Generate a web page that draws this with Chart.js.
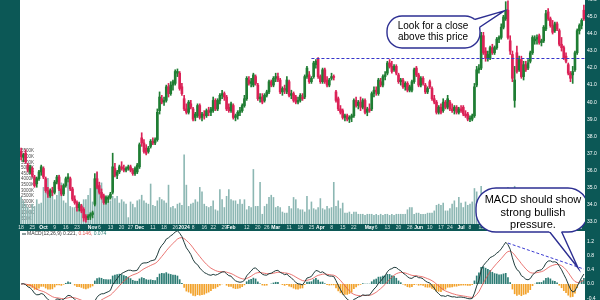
<!DOCTYPE html>
<html><head><meta charset="utf-8">
<script src="https://cdn.jsdelivr.net/npm/chart.js@4.4.1/dist/chart.umd.min.js"></script>
<style>
html,body{margin:0;padding:0;background:#fff;}
#wrap{position:relative;width:600px;height:300px;overflow:hidden;}
canvas{position:absolute;left:0;}
</style></head><body>
<div id="wrap">
<canvas id="priceCv" width="600" height="231" style="top:0"></canvas>
<canvas id="macdCv" width="600" height="69" style="top:231px"></canvas>
<canvas id="noteCv" width="600" height="300" style="top:0"></canvas>
</div>
<script>
// ---------- DATA ----------
const openP = [
37.1,36.8,37.0,36.3,35.9,36.1,35.6,35.2,35.5,35.9,
36.1,35.5,34.8,34.5,34.8,34.7,35.3,35.6,34.9,34.6,
35.1,35.5,35.5,34.9,34.3,34.1,33.8,33.9,33.7,33.3,
33.2,33.3,33.4,34.0,35.5,35.1,34.7,34.5,34.1,34.3,
34.4,34.7,36.1,35.7,35.9,36.2,36.1,36.0,36.1,36.2,
36.0,35.8,35.9,36.2,37.9,37.6,37.3,37.1,37.4,37.7,
37.6,37.8,39.5,40.2,40.0,40.1,40.9,40.5,41.0,41.1,
41.7,41.7,40.9,40.2,39.6,39.4,39.9,39.6,39.1,39.2,
39.8,39.1,39.3,39.2,39.5,39.4,39.5,40.1,39.6,40.1,
40.4,40.5,40.3,39.7,39.5,39.8,39.1,39.2,39.4,39.5,
39.8,40.2,41.3,41.1,41.0,41.5,41.0,40.2,40.3,40.1,
40.4,40.6,41.2,41.0,41.4,41.5,41.3,40.6,40.8,40.6,
41.2,40.4,40.5,40.3,40.0,40.1,40.3,40.3,41.5,41.6,
41.2,41.5,42.2,42.55,41.5,41.2,41.9,41.3,41.0,41.4,
41.5,40.6,40.2,39.6,39.5,39.1,39.2,39.0,39.1,39.2,
40.1,39.8,40.0,39.7,40.1,39.4,39.6,39.6,40.5,40.7,
40.5,41.2,41.0,41.5,41.7,42.3,42.1,41.9,42.1,41.6,
41.2,41.3,40.9,41.1,40.7,40.7,41.2,42.0,41.6,41.0,
41.4,41.0,40.6,41.2,40.8,40.2,40.0,39.4,39.7,39.5,
40.0,39.7,40.0,39.6,39.5,39.7,39.4,39.6,39.7,39.3,
39.3,39.0,39.0,39.2,41.0,41.9,42.0,43.9,43.0,42.6,
42.6,43.2,42.9,43.2,43.7,43.8,44.4,44.9,45.4,43.6,
42.8,40.1,42.9,41.9,42.5,41.5,42.2,42.0,42.4,42.9,
43.6,43.7,43.9,43.5,43.6,44.3,45.3,44.9,44.5,44.2,
44.6,44.2,43.4,43.2,42.7,42.2,41.7,41.6,41.9,42.9,
44.2,44.5,45.4];
const highP = [
37.3,37.0,37.2,36.4,36.3,36.2,35.7,35.6,36.0,36.3,
36.2,35.6,35.0,34.9,35.0,35.4,35.7,35.7,35.1,35.2,
35.6,35.8,35.6,35.0,34.5,34.2,34.1,34.0,33.8,33.4,
33.4,33.5,33.6,35.8,35.9,35.3,34.9,34.6,34.5,34.5,
34.7,37.0,36.4,36.0,36.3,36.5,36.3,36.2,36.3,36.3,
36.1,36.2,36.4,37.6,38.2,37.8,37.5,37.4,37.8,37.9,
37.9,39.6,40.6,40.4,40.3,41.0,41.1,41.2,41.3,41.9,
41.95,41.8,41.1,40.4,39.9,40.1,40.1,39.7,39.4,39.9,
39.9,39.4,39.5,39.6,39.7,39.7,40.3,40.2,40.2,40.5,
40.7,40.6,40.4,39.9,40.0,39.9,39.3,39.5,39.7,39.9,
40.4,41.5,41.5,41.4,41.7,41.6,41.1,40.5,40.5,40.5,
40.7,41.3,41.3,41.5,41.7,41.7,41.4,40.9,41.0,41.5,
41.3,40.7,40.6,40.4,40.3,40.5,40.5,41.6,42.1,41.8,
41.5,42.4,42.5,42.62,41.6,42.0,42.0,41.5,41.4,41.7,
41.6,40.7,40.3,39.8,39.6,39.3,39.3,39.2,39.3,40.2,
40.3,40.1,40.3,40.2,40.2,39.7,39.9,40.6,40.9,40.9,
41.4,41.4,41.6,41.8,42.4,42.5,42.4,42.2,42.2,41.7,
41.4,41.4,41.2,41.2,41.0,41.3,42.0,42.1,41.7,41.5,
41.5,41.1,40.9,41.3,40.9,40.4,40.1,39.8,39.9,40.2,
40.1,40.4,40.1,39.9,39.8,39.8,39.7,39.8,39.8,39.5,
39.4,39.2,39.3,41.1,42.1,42.2,44.1,44.1,43.2,43.0,
43.3,43.4,43.3,43.8,43.9,44.6,45.1,45.9,45.95,43.9,
43.0,42.1,43.3,42.7,42.7,42.4,42.4,42.5,43.0,43.9,
43.9,43.95,44.0,43.7,44.5,45.4,45.5,45.0,44.8,44.7,
44.7,44.3,43.8,43.3,42.9,42.3,41.8,42.1,43.0,44.3,
44.6,44.9,45.7];
const lowP = [
36.6,36.5,36.4,35.9,35.8,35.6,35.0,35.0,35.4,35.7,
35.5,34.7,34.4,34.4,34.5,34.6,35.2,34.8,34.5,34.5,
35.0,35.3,34.8,34.2,34.0,33.6,33.6,33.5,33.0,32.95,
33.1,33.1,33.2,33.9,34.9,34.6,34.3,34.0,34.0,34.1,
34.3,34.6,35.6,35.5,35.8,36.0,35.9,35.9,36.0,35.9,
35.7,35.7,35.8,36.1,37.4,37.0,36.9,37.0,37.3,37.5,
37.5,37.7,39.3,39.9,39.8,40.0,40.3,40.4,40.7,41.0,
41.5,40.7,40.4,39.5,39.3,39.3,39.6,38.9,38.9,39.1,
39.0,38.9,39.0,39.1,39.2,39.2,39.4,39.5,39.5,39.9,
40.2,40.1,39.5,39.4,39.4,39.0,38.9,39.0,39.2,39.4,
39.7,40.1,41.0,40.9,40.9,41.0,40.1,40.0,39.9,40.0,
40.3,40.5,40.9,40.9,41.2,41.2,40.5,40.4,40.5,40.5,
40.3,40.2,40.0,39.9,39.9,40.0,40.1,40.2,41.4,41.1,
41.1,41.4,42.0,41.4,41.1,41.1,41.1,40.9,40.9,41.3,
41.3,40.0,39.5,39.3,39.0,38.9,38.9,38.8,38.85,39.1,
39.7,39.6,39.5,39.6,39.3,39.2,39.4,39.5,40.3,40.4,
40.4,40.9,40.9,41.3,41.6,42.0,41.7,41.8,41.6,41.1,
41.0,40.8,40.7,40.6,40.6,40.6,41.1,41.5,40.9,40.9,
41.0,40.5,40.5,40.8,40.1,39.9,39.3,39.3,39.3,39.4,
39.6,39.6,39.5,39.4,39.3,39.3,39.3,39.4,39.2,39.1,
38.9,38.85,38.9,39.1,40.9,41.7,41.9,42.8,42.4,42.4,
42.5,42.8,42.8,43.1,43.5,43.7,44.3,44.8,43.7,42.8,
41.2,39.7,41.7,41.8,41.4,41.3,41.8,41.9,42.3,42.8,
43.4,43.4,43.4,43.3,43.5,44.2,44.8,44.4,44.0,44.1,
44.2,43.3,43.0,42.5,42.3,41.6,41.2,41.1,41.8,42.8,
44.0,44.3,44.8];
const closeP = [
36.8,36.9,36.5,36.0,36.2,35.7,35.1,35.5,35.9,36.2,
35.6,34.8,34.6,34.8,34.7,35.3,35.6,34.9,34.6,35.1,
35.5,35.6,34.9,34.3,34.1,33.8,34.0,33.6,33.2,33.1,
33.3,33.4,33.5,35.5,35.0,34.7,34.4,34.1,34.4,34.4,
34.6,36.2,35.7,35.9,36.2,36.1,36.0,36.1,36.2,36.0,
35.8,36.1,36.3,37.5,37.6,37.1,37.0,37.3,37.7,37.6,
37.8,39.4,40.3,40.0,40.1,40.9,40.5,41.0,41.2,41.8,
41.8,40.8,40.5,39.6,39.4,40.0,39.7,39.0,39.3,39.8,
39.1,39.3,39.2,39.5,39.4,39.6,40.1,39.6,40.1,40.4,
40.5,40.3,39.6,39.5,39.9,39.1,39.2,39.4,39.5,39.8,
40.2,41.4,41.1,41.2,41.6,41.1,40.2,40.3,40.0,40.4,
40.6,41.2,41.0,41.4,41.5,41.3,40.6,40.8,40.7,41.3,
40.4,40.5,40.1,40.0,40.1,40.4,40.2,41.5,42.0,41.2,
41.4,42.3,42.4,41.5,41.2,41.9,41.2,41.0,41.3,41.5,
41.45,40.1,39.6,39.4,39.1,39.2,39.0,39.1,39.2,40.1,
39.8,40.0,39.7,40.1,39.4,39.6,39.5,40.5,40.7,40.6,
41.3,41.0,41.5,41.6,42.3,42.1,41.8,42.1,41.7,41.2,
41.3,40.9,41.1,40.7,40.9,41.2,41.9,41.6,41.0,41.4,
41.1,40.6,40.8,40.9,40.2,40.0,39.4,39.7,39.4,40.0,
39.7,40.2,39.6,39.5,39.7,39.4,39.6,39.5,39.3,39.2,
39.0,39.05,39.2,40.9,41.9,42.0,43.9,42.9,42.6,42.8,
43.2,42.9,43.2,43.7,43.8,44.4,45.0,45.4,43.8,43.0,
41.4,41.3,41.8,42.5,41.5,42.2,41.9,42.3,42.9,43.8,
43.7,43.8,43.5,43.6,44.4,45.2,44.9,44.5,44.1,44.6,
44.3,43.4,43.2,42.6,42.4,41.7,41.4,41.8,42.9,44.2,
44.5,44.8,44.9];
// volume in millions of shares
const volume = [
2.4,2.1,1.8,1.5,1.3,1.8,1.6,2.2,1.8,1.9,
3.3,3.3,4.1,3.0,3.2,2.2,2.6,4.4,3.7,2.1,
1.9,3.7,1.6,1.5,1.5,1.6,2.0,1.7,2.2,2.2,
2.6,3.2,2.0,3.5,4.6,3.4,3.7,2.5,2.2,1.9,
2.1,2.5,2.3,2.5,1.9,2.2,2.0,1.8,0.6,2.0,
1.8,1.5,2.1,2.2,2.6,2.1,1.9,1.8,3.6,1.7,
1.6,2.1,2.4,2.2,2.1,1.9,3.5,1.5,1.6,1.4,
1.8,1.9,1.7,6.2,3.5,1.6,1.8,1.9,2.2,2.0,
3.3,2.9,1.8,1.6,1.5,1.6,2.1,1.3,1.2,3.1,
2.2,1.5,2.5,3.1,2.2,2.1,2.1,1.8,2.2,1.8,
2.2,1.3,1.6,1.5,4.9,1.6,1.6,3.75,0.9,1.6,
1.8,2.4,2.6,2.4,1.5,1.6,1.5,1.1,1.0,1.0,
1.6,1.4,2.4,2.2,1.4,1.3,1.3,1.1,2.5,1.3,
2.0,1.4,1.3,1.5,2.3,1.4,1.3,1.6,1.4,1.5,
3.75,1.6,2.1,1.4,1.9,1.0,1.0,1.1,0.9,1.1,
1.1,0.9,0.9,0.9,0.8,0.9,0.9,0.9,0.8,0.9,
0.8,0.9,0.8,0.9,0.9,0.8,0.9,0.8,0.9,0.9,
0.9,0.9,0.9,1.3,1.5,1.5,0.9,1.0,1.0,0.9,
0.9,0.9,1.0,1.0,1.0,1.2,1.7,1.8,1.7,1.9,
1.2,1.2,1.4,1.8,2.1,1.5,2.4,1.9,1.5,2.0,
1.7,1.8,2.0,3.2,2.9,2.2,3.4,2.8,2.3,2.0,
1.9,1.8,1.7,2.0,1.9,2.4,2.3,2.9,3.3,2.6,
2.8,3.4,2.5,2.0,2.1,1.8,1.6,1.5,1.7,2.0,
1.5,1.4,1.5,1.3,1.8,2.2,1.7,1.5,1.4,1.3,
1.4,1.8,1.6,1.7,1.5,1.9,1.6,1.8,2.0,2.4,
1.8,1.6,1.9];
// date axis: bar index of each label and its text
const tickBars = [0,5,10,15,20,25,32,35,40,45,49,53,59,64,69,73,77,82,86,91,94,101,106,110,114,120,125,130,134,139,144,149,156,159,164,169,174,178,183,188,192,197,201,206,211,216,219,226,231,236,241,245,250];
const tickText = ["18","25","Oct","9","16","23","Nov","6","13","20","27","Dec","11","18","26","2024","8","16","22","29","Feb","12","20","26","Mar","11","18","25","Apr","8","15","22","May","6","13","20","28","Jun","10","17","24","Jul","8","15","22","29","Aug","12","19","26","Sep","9","16"];
const priceTicks = [33.0,33.5,34.0,34.5,35.0,35.5,36.0,36.5,37.0,37.5,38.0,38.5,39.0,39.5,40.0,40.5,41.0,41.5,42.0,42.5,43.0,43.5,44.0,44.5,45.0,45.5,46.0];
const volTicks = [0.5,1,1.5,2,2.5,3,3.5,4,4.5,5,5.5,6,6.5];
const volTickText = ["500K","1000K","1500K","2000K","2500K","3000K","3500K","4000K","4500K","5000K","5500K","6000K","6500K"];
const macdTicks = [-0.4,-0.2,0,0.2,0.4,0.6,0.8,1.0,1.2,1.4];
const macdLegendValues = ["0.221","0.146","0.074"];
const resistance = 42.62;      // dashed level
const resistanceFromBar = 130;
const macdTrend = [[218,1.15],[252,0.42]];
const note1 = {lines:["Look for a close","above this price"], tip:[216.3,45.36]};
const note2 = {lines:["MACD should show","strong bullish","pressure."], tip:[249.4,0.45]};

// ---------- derived ----------
const N = closeP.length;
const cats = closeP.map((_, i) => i);
const TEAL = '#0c5856';
const GREEN = '#1f7d33', RED = '#db2257';
const candleColors = closeP.map((c, i) => c >= openP[i] ? GREEN : RED);
function ema(arr, n){ const k = 2/(n+1); const out = []; arr.forEach((v,i)=>out.push(i===0 ? v : v*k + out[i-1]*(1-k))); return out; }
const e12 = ema(closeP, 12), e26 = ema(closeP, 26);
const macd = e12.map((v,i)=>v - e26[i]);
const signal = ema(macd, 9);
const hist = macd.map((v,i)=>v - signal[i]);
const tickMap = new Map(tickBars.map((b,i)=>[b, tickText[i]]));

Chart.defaults.font.family = "'Liberation Sans', Arial, sans-serif";

const bands = {
  id: 'bands',
  beforeDraw(chart, args, opts){
    const {ctx, chartArea: a, width, height} = chart;
    ctx.save();
    ctx.fillStyle = '#fff'; ctx.fillRect(0,0,width,height);
    ctx.fillStyle = TEAL;
    ctx.fillRect(0,0,a.left,height);
    ctx.fillRect(a.right,0,width-a.right,height);
    if (opts.strip) ctx.fillRect(0,a.bottom,width,height-a.bottom);
    ctx.restore();
  }
};
const noPad = s => { s.paddingTop = 0; s.paddingBottom = 0; s.paddingLeft = 0; s.paddingRight = 0; };

const resistanceLine = {
  id: 'resistanceLine',
  afterDatasetsDraw(chart){
    const {ctx, chartArea: a, scales: {x, y}} = chart;
    const py = Math.round(y.getPixelForValue(resistance)) + 0.5;
    ctx.save();
    ctx.strokeStyle = '#3535c8'; ctx.lineWidth = 1; ctx.setLineDash([3,2]);
    ctx.beginPath(); ctx.moveTo(x.getPixelForValue(resistanceFromBar), py); ctx.lineTo(a.right, py); ctx.stroke();
    ctx.restore();
  }
};

const priceChart = new Chart(document.getElementById('priceCv'), {
  type: 'bar',
  data: {
    labels: cats,
    datasets: [
      {label:'body', data: openP.map((o,i)=>[o, closeP[i]]), backgroundColor: candleColors, barThickness: 2, minBarLength: 1, grouped: false, yAxisID: 'y', order: 1},
      {label:'wick', data: lowP.map((l,i)=>[l, highP[i]]), backgroundColor: candleColors, barThickness: 1, grouped: false, yAxisID: 'y', order: 2},
      {label:'volume', data: volume, backgroundColor: '#8cb7b3', barPercentage: 0.72, categoryPercentage: 1, grouped: false, yAxisID: 'yVol', order: 3}
    ]
  },
  options: {
    responsive: false, animation: false, devicePixelRatio: 1,
    layout: {padding: 0},
    plugins: {legend:{display:false}, tooltip:{enabled:false}, bands:{strip:true}},
    scales: {
      x: {type:'category', offset:true, grid:{display:false, drawTicks:false}, border:{display:false},
          ticks:{autoSkip:false, maxRotation:0, minRotation:0, padding:1,
                 color: c => (/^\d{1,2}$/.test(tickMap.get(c.index) || '') ? '#d8e6e4' : '#ffffff'),
                 font: c => ({size:5, weight: (/^\d{1,2}$/.test(tickMap.get(c.index) || '') ? 'normal' : 'bold')}),
                 callback: (v, i) => tickMap.get(i) || ''},
          afterFit(s){ s.height = 7; noPad(s); }},
      y: {position:'right', min:32.84, max:46.0, grid:{display:false, drawTicks:false}, border:{display:false},
          ticks:{color:'#ffffff', font:{size:5}, padding:2, callback: v => Number(v).toFixed(1)},
          afterBuildTicks(s){ s.ticks = priceTicks.map(v=>({value:v})); },
          afterFit(s){ s.width = 15; noPad(s); }},
      yVol: {position:'left', min:0, max:20, grid:{display:false, drawTicks:false}, border:{display:false},
          ticks:{mirror:true, color:'#4a4a4a', font:{size:4.5}, padding:1,
                 callback: (v) => { const k = volTicks.indexOf(v); return k >= 0 ? volTickText[k] : ''; }},
          afterBuildTicks(s){ s.ticks = volTicks.map(v=>({value:v})); },
          afterFit(s){ s.width = 20; noPad(s); }}
    }
  },
  plugins: [bands, resistanceLine]
});

const macdExtras = {
  id: 'macdExtras',
  afterDatasetsDraw(chart){
    const {ctx, chartArea: a, scales: {x, y}} = chart;
    ctx.save();
    ctx.strokeStyle = '#3b3bd2'; ctx.lineWidth = 1; ctx.setLineDash([3,2]);
    ctx.beginPath();
    ctx.moveTo(x.getPixelForValue(macdTrend[0][0]), y.getPixelForValue(macdTrend[0][1]));
    ctx.lineTo(x.getPixelForValue(macdTrend[1][0]), y.getPixelForValue(macdTrend[1][1]));
    ctx.stroke();
    ctx.setLineDash([]);
    // legend
    ctx.font = "5px 'Liberation Sans', Arial, sans-serif";
    ctx.textBaseline = 'middle';
    let px = a.left + 2; const py = 3;
    ctx.strokeStyle = '#203c3c'; ctx.lineWidth = 1;
    ctx.beginPath(); ctx.moveTo(px, py); ctx.lineTo(px+4, py); ctx.stroke();
    px += 5;
    const parts = [["MACD(12,26,9) ", '#333'], [macdLegendValues[0] + ", ", '#333'], [macdLegendValues[1] + ", ", '#e0504c'], [macdLegendValues[2], '#2c7c74']];
    parts.forEach(([t, c]) => { ctx.fillStyle = c; ctx.fillText(t, px, py); px += ctx.measureText(t).width; });
    ctx.restore();
  }
};

const macdChart = new Chart(document.getElementById('macdCv'), {
  type: 'bar',
  data: {
    labels: cats,
    datasets: [
      {type:'line', label:'MACD', data: macd, borderColor:'#203c3c', borderWidth:1, pointRadius:0, tension:0, order:1},
      {type:'line', label:'Signal', data: signal, borderColor:'#e4534f', borderWidth:0.8, pointRadius:0, tension:0, order:2},
      {type:'bar', label:'Histogram', data: hist, backgroundColor: hist.map(h => h >= 0 ? '#2c7c74' : '#f2a22b'), barPercentage:0.75, categoryPercentage:1, order:3}
    ]
  },
  options: {
    responsive: false, animation: false, devicePixelRatio: 1,
    layout: {padding: {left:20, right:0, top:0, bottom:0}},
    plugins: {legend:{display:false}, tooltip:{enabled:false}, bands:{strip:false}},
    scales: {
      x: {type:'category', offset:true, display:false},
      y: {position:'right', min:-0.45, max:1.49, grid:{display:false, drawTicks:false}, border:{display:false},
          ticks:{color:'#ffffff', font:{size:5}, padding:2, callback: v => Number(v).toFixed(1)},
          afterBuildTicks(s){ s.ticks = macdTicks.map(v=>({value:v})); },
          afterFit(s){ s.width = 15; noPad(s); }}
    }
  },
  plugins: [bands, macdExtras]
});

// ---------- callouts ----------
function rrPath(ctx, x, y, w, h, r){
  ctx.moveTo(x+r, y); ctx.arcTo(x+w, y, x+w, y+h, r); ctx.arcTo(x+w, y+h, x, y+h, r);
  ctx.arcTo(x, y+h, x, y, r); ctx.arcTo(x, y, x+w, y, r); ctx.closePath();
}
function callout(ctx, box, r, b1, b2, tip, lines, size, lh, cx, cy0, clipRight){
  ctx.save();
  if (clipRight) { ctx.beginPath(); ctx.rect(0, 0, clipRight, 300); ctx.clip(); }
  ctx.lineWidth = 1.4; ctx.strokeStyle = '#2d2f92'; ctx.fillStyle = '#fff';
  ctx.beginPath(); rrPath(ctx, box[0], box[1], box[2], box[3], r); ctx.fill(); ctx.stroke();
  ctx.beginPath(); ctx.moveTo(b1[0], b1[1]); ctx.lineTo(tip[0], tip[1]); ctx.lineTo(b2[0], b2[1]); ctx.closePath(); ctx.fill();
  ctx.save();
  ctx.beginPath(); ctx.rect(0, 0, 600, 300); rrPath(ctx, box[0], box[1], box[2], box[3], r); ctx.clip('evenodd');
  ctx.beginPath(); ctx.moveTo(b1[0], b1[1]); ctx.lineTo(tip[0], tip[1]); ctx.lineTo(b2[0], b2[1]); ctx.stroke();
  ctx.restore();
  ctx.fillStyle = '#000'; ctx.textAlign = 'center'; ctx.textBaseline = 'middle';
  ctx.font = size + "px 'Liberation Sans', Arial, sans-serif";
  lines.forEach((t, i) => ctx.fillText(t, cx, cy0 + i*lh));
  ctx.restore();
}
(function drawNotes(){
  const ctx = document.getElementById('noteCv').getContext('2d');
  const px = priceChart.scales.x, py = priceChart.scales.y;
  const mx = macdChart.scales.x, my = macdChart.scales.y;
  const macdTop = 231;
  const tip1 = [px.getPixelForValue(note1.tip[0]), py.getPixelForValue(note1.tip[1])];
  callout(ctx, [387, 16, 93, 32], 15, [466, 22], [474, 31], tip1, note1.lines, 10, 11, 433, 26.5, null);
  const tip2 = [mx.getPixelForValue(note2.tip[0]), macdTop + my.getPixelForValue(note2.tip[1])];
  callout(ctx, [476, 188, 112, 44], 20, [545, 226], [559, 226], tip2, note2.lines, 11, 12.5, 533, 200, 585);
})();
</script>
</body></html>
